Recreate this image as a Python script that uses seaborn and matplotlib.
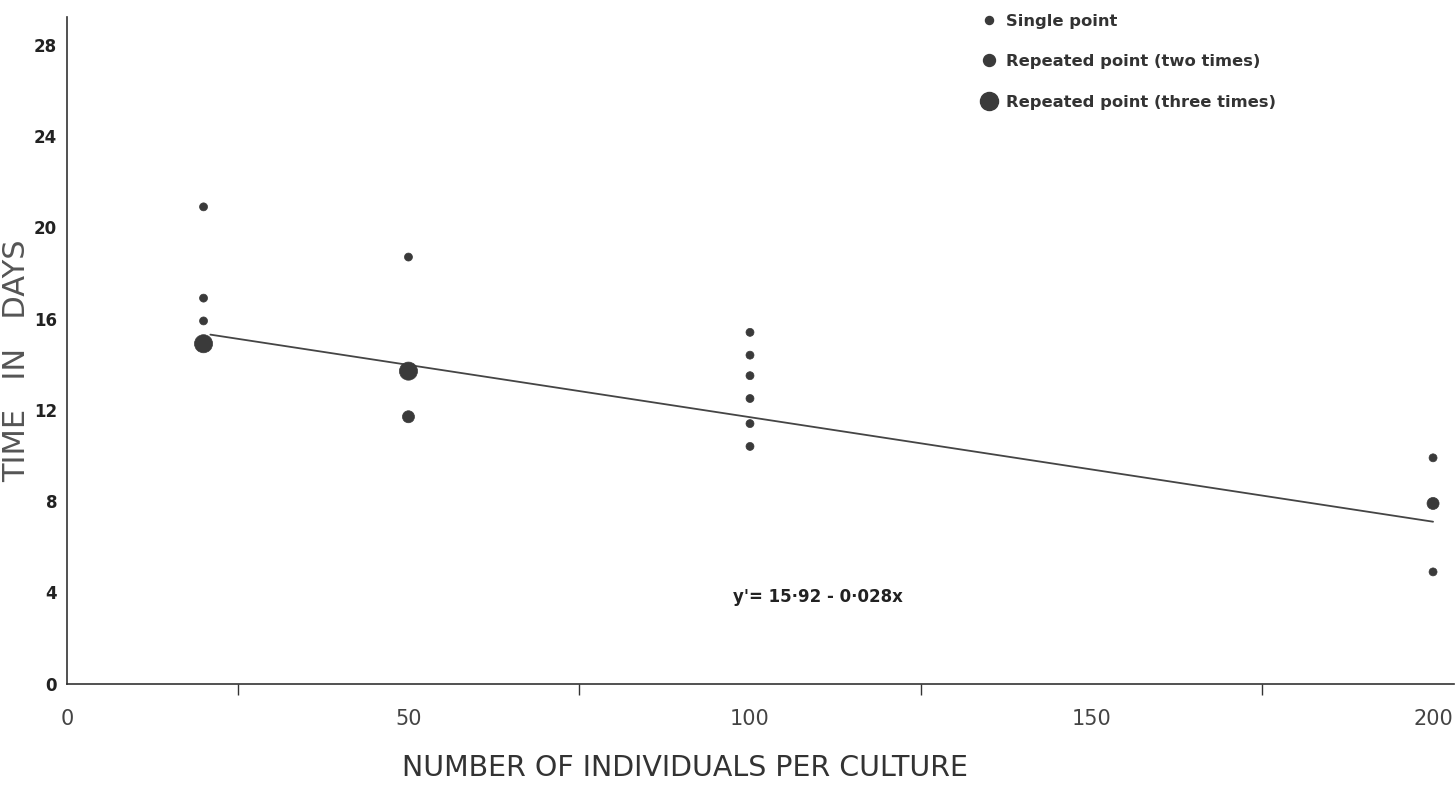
import matplotlib
matplotlib.use("Agg")
import matplotlib.pyplot as plt
from matplotlib.lines import Line2D
from matplotlib.ticker import MultipleLocator
import seaborn as sns
import pandas as pd

# ---- data ----
point_x = [20, 20, 20, 20,
           50, 50, 50,
           100, 100, 100, 100, 100, 100,
           200, 200, 200]
point_y = [20.9, 16.9, 15.9, 14.9,
           18.7, 13.7, 11.7,
           15.4, 14.4, 13.5, 12.5, 11.4, 10.4,
           9.9, 7.9, 4.9]
point_count = [1, 1, 1, 3,
               1, 3, 2,
               1, 1, 1, 1, 1, 1,
               1, 2, 1]

line_x = [21, 200]
line_y = [15.3, 7.1]

x_ticks = [0, 50, 100, 150, 200]
y_ticks = [0, 4, 8, 12, 16, 20, 24, 28]
legend_labels = ["Single point", "Repeated point (two times)", "Repeated point (three times)"]
equation = "y'= 15·92 - 0·028x"

# ---- styling ----
sns.set_theme(style="white")
plt.rcParams['font.family'] = ['DejaVu Sans']
ink = "#3a3a3a"

fig = plt.figure(figsize=(14.55, 7.95), dpi=100)
ax = fig.add_axes([0.046, 0.14, 0.953, 0.838])

df = pd.DataFrame({"x": point_x, "y": point_y, "n": point_count})
size_map = {1: 33, 2: 75, 3: 170}
sns.scatterplot(data=df, x="x", y="y", size="n", sizes=size_map,
                color=ink, edgecolor=ink, linewidth=0.5, legend=False, ax=ax, zorder=3)

line_df = pd.DataFrame({"x": line_x, "y": line_y})
sns.lineplot(data=line_df, x="x", y="y", color="#454545", linewidth=1.3, ax=ax, zorder=2)

ax.set_xlim(0, 203)
ax.set_ylim(0, 29.2)
ax.set_xticks(x_ticks)
ax.set_yticks(y_ticks)
ax.xaxis.set_minor_locator(MultipleLocator(25))
for s in ["top", "right"]:
    ax.spines[s].set_visible(False)
for s in ["left", "bottom"]:
    ax.spines[s].set_color("#333333")
    ax.spines[s].set_linewidth(1.2)

ax.tick_params(axis="y", which="major", direction="out", length=6, width=1,
               color="#333333", labelsize=12, pad=1, labelcolor="#222222")
ax.tick_params(axis="x", which="major", direction="out", length=10, width=1,
               color="#333333", labelsize=15, pad=8, labelcolor="#444444")
ax.tick_params(axis="x", which="minor", direction="out", length=8, width=1,
               color="#333333", bottom=True)
for lab in ax.get_yticklabels():
    lab.set_fontweight("bold")

ax.set_xlabel("NUMBER OF INDIVIDUALS PER CULTURE", fontsize=20.5, color="#333333")
ax.xaxis.set_label_coords(0.446, -0.105)
ax.set_ylabel("TIME   IN   DAYS", fontsize=22, color="#555555")
ax.yaxis.set_label_coords(-0.0255, 0.485)

ax.text(97.5, 3.8, equation, fontsize=12, fontweight="bold", color="#222222",
        va="center", ha="left")

handles = [Line2D([], [], linestyle="none", marker="o", markersize=ms,
                  markerfacecolor=ink, markeredgecolor=ink)
           for ms in (5.8, 8.6, 13)]
fig.legend(handles, legend_labels, loc="upper left", bbox_to_anchor=(0.666, 0.995),
           frameon=False, prop={"size": 11.8, "weight": "bold"}, labelcolor="#333333",
           handletextpad=0.45, labelspacing=1.55, handlelength=1.2, borderaxespad=0.2)

fig.savefig("out.png", dpi=100)
